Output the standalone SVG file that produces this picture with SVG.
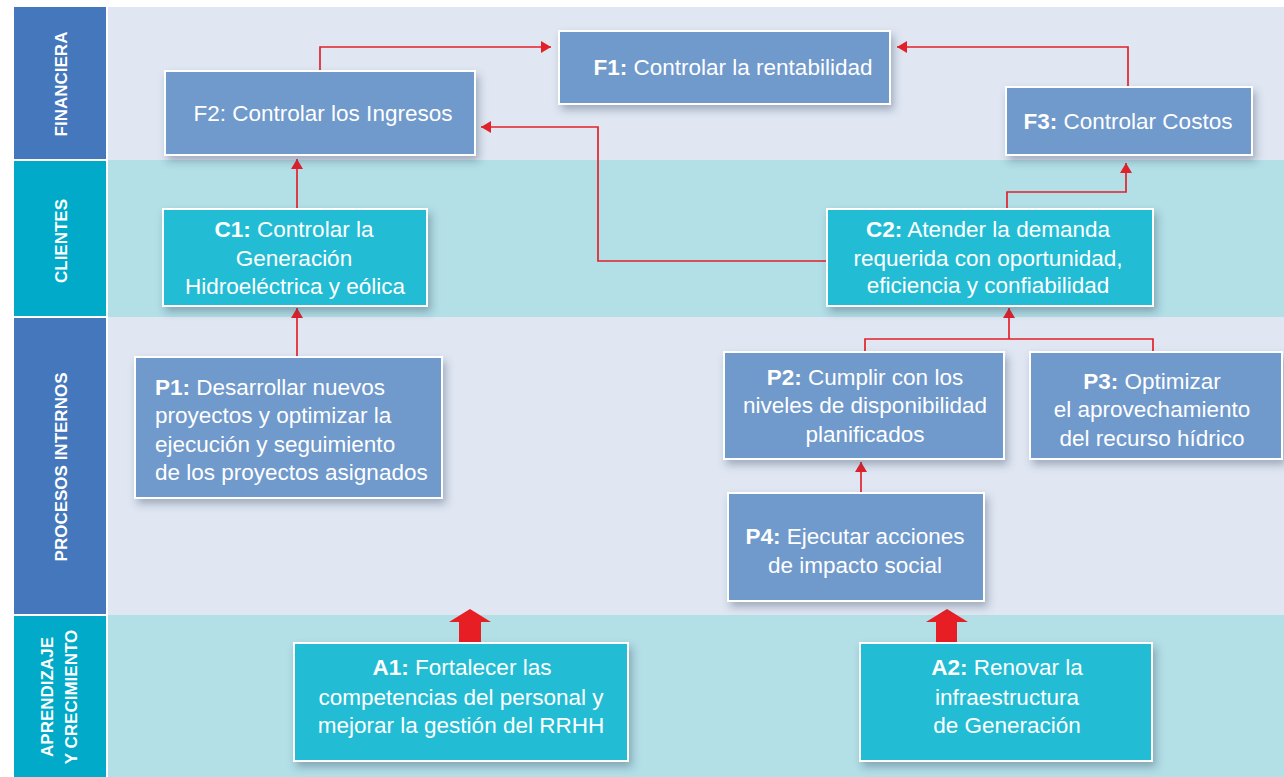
<svg xmlns="http://www.w3.org/2000/svg" width="1284" height="777" viewBox="0 0 1284 777">
<style>
.bandL{fill:#e0e7f3}
.bandT{fill:#b3dfe7}
.labB{fill:#4477bb}
.labT{fill:#00aac8}
.lab{font-family:"Liberation Sans",Arial,sans-serif;font-weight:bold;font-size:17px;fill:#ffffff;text-anchor:middle}
.boxB{fill:#6f99cc;stroke:#ffffff;stroke-width:2;filter:url(#sh)}
.boxT{fill:#22bdd4;stroke:#ffffff;stroke-width:2;filter:url(#sh)}
.t{font-family:"Liberation Sans",Arial,sans-serif;font-size:22.5px;fill:#ffffff;text-anchor:middle}
.tl{font-family:"Liberation Sans",Arial,sans-serif;font-size:22.5px;fill:#ffffff}
.b{font-weight:bold}
.c{fill:none;stroke:#e3212a;stroke-width:1.7;marker-end:url(#ah)}
.cn{fill:none;stroke:#e3212a;stroke-width:1.7}
.big{fill:#e81e25}
</style>
<defs>
<filter id="sh" x="-10%" y="-15%" width="130%" height="150%">
<feDropShadow dx="3" dy="5" stdDeviation="4" flood-color="#2d3e55" flood-opacity="0.35"/>
</filter>
<marker id="ah" viewBox="0 0 10 12" refX="10" refY="6" markerWidth="10" markerHeight="12" markerUnits="userSpaceOnUse" orient="auto">
<path d="M0,0 L10,6 L0,12 z" fill="#e3212a"/>
</marker>
</defs>

<g id="bands">
<rect class="bandL" x="108" y="7" width="1176" height="153"/>
<rect class="bandT" x="108" y="160" width="1176" height="157"/>
<rect class="bandL" x="108" y="317" width="1176" height="298"/>
<rect class="bandT" x="108" y="615" width="1176" height="162"/>
</g>

<g id="labels">
<rect class="labB" x="14" y="7" width="92" height="152"/>
<rect class="labT" x="14" y="161" width="92" height="155"/>
<rect class="labB" x="14" y="318" width="92" height="296"/>
<rect class="labT" x="14" y="616" width="92" height="161"/>
<text class="lab" transform="translate(67,84) rotate(-90)">FINANCIERA</text>
<text class="lab" transform="translate(67,241) rotate(-90)">CLIENTES</text>
<text class="lab" transform="translate(67,467) rotate(-90)">PROCESOS INTERNOS</text>
<text class="lab" transform="translate(53,697) rotate(-90)">APRENDIZAJE</text>
<text class="lab" transform="translate(77,697) rotate(-90)">Y CRECIMIENTO</text>
</g>

<g id="connectors">
<path class="c" d="M320,71 V47 H551"/>
<path class="c" d="M1128,87 V47 H897"/>
<path class="c" d="M827,261 H598 V127 H481"/>
<path class="c" d="M1007,209 V192 H1126 V163"/>
<path class="c" d="M297,209 V159"/>
<path class="c" d="M297,357 V308"/>
<path class="cn" d="M865,352 V339 H1153 V352"/>
<path class="c" d="M1009,339 V308"/>
<path class="c" d="M861,493 V462"/>
<polygon class="big" points="470,609 491,622 481,622 481,642 459,642 459,622 449,622"/>
<polygon class="big" points="947,609 968,622 957,622 957,642 936,642 936,622 926,622"/>
</g>

<g id="F1">
<rect class="boxB" x="559" y="31" width="331" height="73"/>
<text class="t" x="733" y="75"><tspan class="b">F1:</tspan><tspan> Controlar la rentabilidad</tspan></text>
</g>
<g id="F2">
<rect class="boxB" x="165" y="71" width="310" height="84"/>
<text class="t" x="323" y="121">F2: Controlar los Ingresos</text>
</g>
<g id="F3">
<rect class="boxB" x="1006" y="87" width="246" height="68"/>
<text class="t" x="1128" y="129"><tspan class="b">F3:</tspan><tspan> Controlar Costos</tspan></text>
</g>

<g id="C1">
<rect class="boxT" x="163" y="209" width="264" height="97"/>
<text class="t" x="294" y="237"><tspan class="b">C1:</tspan><tspan> Controlar la</tspan></text>
<text class="t" x="294" y="266">Generación</text>
<text class="t" x="295" y="294">Hidroeléctrica y eólica</text>
</g>
<g id="C2">
<rect class="boxT" x="827" y="209" width="326" height="97"/>
<text class="t" x="988" y="237"><tspan class="b">C2:</tspan><tspan> Atender la demanda</tspan></text>
<text class="t" x="988" y="266">requerida con oportunidad,</text>
<text class="t" x="988" y="293">eficiencia y confiabilidad</text>
</g>

<g id="P1">
<rect class="boxB" x="135" y="357" width="307" height="141"/>
<text class="tl" x="155" y="395"><tspan class="b">P1:</tspan><tspan> Desarrollar nuevos</tspan></text>
<text class="tl" x="155" y="423">proyectos y optimizar la</text>
<text class="tl" x="155" y="452">ejecución y seguimiento</text>
<text class="tl" x="155" y="480">de los proyectos asignados</text>
</g>
<g id="P2">
<rect class="boxB" x="724" y="352" width="280" height="107"/>
<text class="t" x="865" y="385"><tspan class="b">P2:</tspan><tspan> Cumplir con los</tspan></text>
<text class="t" x="865" y="413">niveles de disponibilidad</text>
<text class="t" x="865" y="442">planificados</text>
</g>
<g id="P3">
<rect class="boxB" x="1030" y="352" width="252" height="107"/>
<text class="t" x="1152" y="389"><tspan class="b">P3:</tspan><tspan> Optimizar</tspan></text>
<text class="t" x="1152" y="417">el aprovechamiento</text>
<text class="t" x="1152" y="446">del recurso hídrico</text>
</g>
<g id="P4">
<rect class="boxB" x="728" y="493" width="256" height="108"/>
<text class="t" x="855" y="544"><tspan class="b">P4:</tspan><tspan> Ejecutar acciones</tspan></text>
<text class="t" x="855" y="573">de impacto social</text>
</g>

<g id="A1">
<rect class="boxT" x="294" y="643" width="334" height="118"/>
<text class="t" x="462" y="675"><tspan class="b">A1:</tspan><tspan> Fortalecer las</tspan></text>
<text class="t" x="461" y="705">competencias del personal y</text>
<text class="t" x="461" y="733">mejorar la gestión del RRHH</text>
</g>
<g id="A2">
<rect class="boxT" x="860" y="643" width="292" height="118"/>
<text class="t" x="1007" y="675"><tspan class="b">A2:</tspan><tspan> Renovar la</tspan></text>
<text class="t" x="1007" y="705">infraestructura</text>
<text class="t" x="1007" y="733">de Generación</text>
</g>
</svg>
